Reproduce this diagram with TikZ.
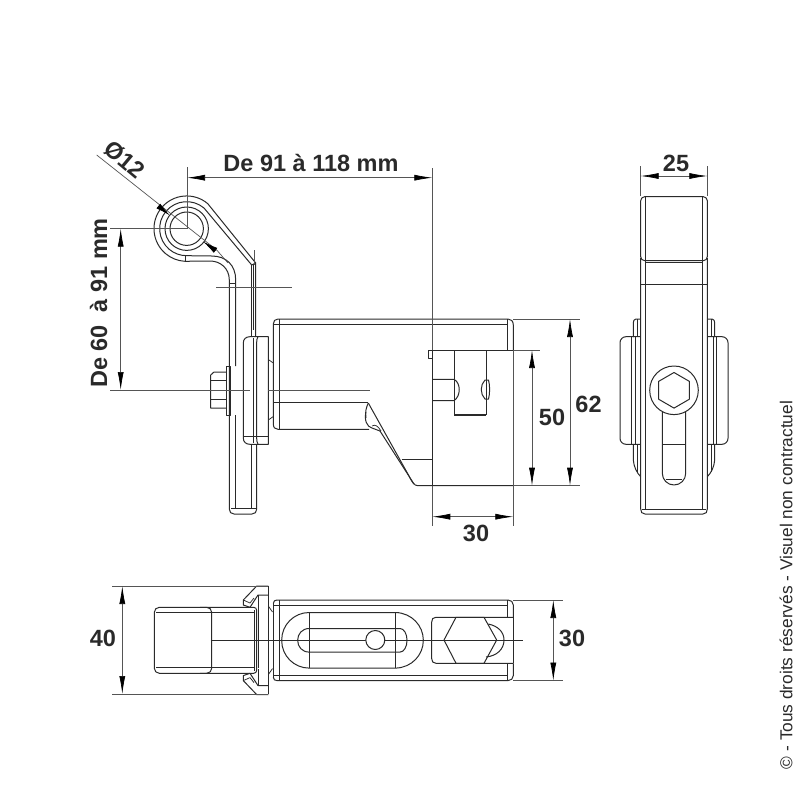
\documentclass[tikz,border=0pt]{standalone}
\usepackage{fontspec}
\setmainfont{Liberation Sans}
\usetikzlibrary{arrows.meta}
\definecolor{ink}{HTML}{2A2A2A}
\definecolor{dimc}{HTML}{555555}
\tikzset{
  part/.style={draw=ink,line width=1pt,line join=round},
  fine/.style={draw=ink,line width=0.75pt,line join=round},
  heavy/.style={draw=ink,line width=1.6pt},
  ext/.style={draw=dimc,line width=0.7pt},
  dimline/.style={draw=dimc,line width=0.7pt,{Latex[length=18pt,width=6pt,color=black]}-{Latex[length=18pt,width=6pt,color=black]}},
  lab/.style={font=\bfseries\fontsize{23.5}{25}\selectfont,text=ink,inner sep=0pt},
  note/.style={font=\fontsize{17.3}{19}\selectfont,text=ink,inner sep=0pt}
}
\begin{document}
\begin{tikzpicture}[x=1pt,y=1pt,yscale=-1]
\useasboundingbox (0,0) rectangle (800,800);
% ---------- eye / side view bracket
\draw[part] (255.7,263) -- (207.7,203.6) arc[start angle=310,end angle=93,radius=32.7]
  -- (210,261) .. controls (220,261) and (229.3,268) .. (229.3,280) -- (229.3,509) .. controls (229.3,512) and (231,514) .. (234,514)
  -- (252,514) .. controls (255,514) and (256.7,512) .. (256.7,509) -- (256.7,444);
\draw[part] (251.7,265) -- (204,208) arc[start angle=310,end angle=90,radius=27]
  -- (211.7,256) .. controls (226,256) and (235.7,265) .. (235.7,280) -- (235.7,366);
\draw[part] (186.7,228.7) circle[radius=21.7];
\draw[part] (186.7,228.7) circle[radius=16.7];
\draw[fine] (185,256) -- (185,261);
\draw[fine] (229.3,283.5) -- (235.7,283.5);
\draw[part] (251.7,265) -- (255.7,263) -- (255.7,336.7);
\draw[part] (251.7,265) -- (251.7,336.7);
\draw[fine] (253.7,264) -- (253.7,330);
\draw[part] (235.7,415) -- (235.7,508) (251.7,444.3) -- (251.7,508);
\draw[fine] (231,508) -- (255.5,508);
% flange
\draw[part] (268.3,336.7) -- (250,336.7) .. controls (246,336.7) and (243.3,339) .. (243.3,343) -- (243.3,438) .. controls (243.3,442) and (246,444.3) .. (250,444.3) -- (268.3,444.3) -- cycle;
\draw[part] (258,336.7) .. controls (256.8,338) and (256.7,340) .. (256.7,345) -- (256.7,436) .. controls (256.7,440) and (256.8,443) .. (258,444.3);
\draw[fine] (253,338) -- (253,443);
\draw[fine] (243.3,436) -- (268.3,436);
\draw[fine] (268.3,359.5) -- (273.3,363) (268.3,420) -- (273.3,416.5);
% bolt
\draw[part] (226,372) -- (214,372) -- (210.7,375) -- (210.7,408) -- (226,408);
\draw[part] (226,366) -- (226,415) -- (230,415) -- (230,366) -- cycle;
\draw[fine] (210.7,380) -- (226,380) (210.7,399) -- (226,399);
% main body
\draw[part] (273.3,324) -- (273.3,424) .. controls (273.3,427.5) and (275,429.3) .. (278,429.3) -- (369,429.3);
\draw[part] (273.3,324) .. controls (273.3,321) and (275,319) .. (278,319) -- (508,319) .. controls (511,319) and (513.3,321) .. (513.3,325) -- (513.3,350);
\draw[part] (274,324.3) -- (507.3,324.3);
\draw[part] (279,319) -- (279,429.3);
\draw[part] (507.3,319) -- (507.3,350);
\draw[part] (273.3,402.3) -- (368.3,402.3);
\draw[part] (368.3,403) -- (409,476) .. controls (412,482) and (414,485.7) .. (418,485.7) -- (513.3,485.7);
\draw[part] (366,412) .. controls (364,420) and (367,427) .. (372,428) -- (380,431) -- (414,484);
\draw[part] (368.3,403) .. controls (366,408) and (365,412) .. (366,418);
\draw[fine] (372,426) .. controls (375,424) and (378,426) .. (381,431);
\draw[part] (401.7,459) -- (432.3,459);
\draw[part] (432.3,350) -- (432.3,485.7);
% head at right
\draw[part] (432.3,358) -- (428.3,358) -- (428.3,350) -- (513.3,350);
\draw[part] (454,350) -- (454,415) (486,350) -- (486,415);
\draw[heavy] (454,415) -- (486,415);
\draw[part] (432.3,379.3) -- (454,379.3) .. controls (461,383) and (461,396) .. (454,400.7) -- (432.3,400.7);
\draw[part] (485,380) .. controls (480,385) and (480,394) .. (485,399) -- (488.5,399) .. controls (490,394) and (490,385) .. (488.5,380) -- cycle;
% ---------- right view
\draw[part,rounded corners=4pt] (640.7,260.7) -- (640.7,196.7) -- (707.3,196.7) -- (707.3,260.7) -- cycle;
\draw[part] (645,196.7) -- (645,509.3) (702.3,196.7) -- (702.3,509.3);
\draw[part] (645,262.7) -- (702.3,262.7);
\draw[part] (640.7,284) -- (707.3,284);
\draw[part] (640.7,258) -- (640.7,509) .. controls (640.7,512) and (642,514) .. (645,514) -- (703,514) .. controls (706,514) and (707.3,512) .. (707.3,509) -- (707.3,258);
\draw[fine] (642,509.3) -- (706,509.3);
\draw[part] (674,390.3) circle[radius=24.3];
\draw[part] (674,372.5) -- (689.4,381.4) -- (689.4,399.2) -- (674,408.1) -- (658.6,399.2) -- (658.6,381.4) -- cycle;
\draw[part] (662.3,412) -- (662.3,473.3) arc[start angle=180,end angle=0,radius=11.7] -- (685.7,412);
\draw[fine] (662.3,444.3) -- (685.7,444.3);
\draw[fine] (666,479) -- (682,479);
\foreach \sx/\lx in {1/0,-1/1348}{
 \begin{scope}[xshift=\lx pt,xscale=\sx]
  \draw[part,rounded corners=6pt] (640.7,336.7) -- (620,336.7) -- (620,444.3) -- (640.7,444.3);
  \draw[part] (640.7,336.7) -- (640.7,444.3);
  \draw[part] (631.7,337) -- (631.7,444);
  \draw[fine] (635,337) -- (635,444);
  \draw[part] (640.7,319) -- (636,319) .. controls (634,319) and (633.3,321) .. (633.3,323) -- (633.3,337);
  \draw[part] (633.3,444.3) -- (633.3,460) .. controls (633.8,467) and (637,473) .. (640.7,476.7);
  \draw[fine] (637,319) -- (637,337);
  \draw[fine] (637,444) -- (637,472);
 \end{scope}}
% ---------- bottom view
\draw[part,rounded corners=5pt] (205,607.3) -- (154.3,607.3) -- (154.3,673.3) -- (205,673.3);
\draw[part,rounded corners=5pt] (200,607.3) -- (211.7,607.3) -- (211.7,673.3) -- (200,673.3);
\draw[part,rounded corners=3pt] (205,607.3) -- (256.7,607.3) -- (256.7,673.3) -- (205,673.3);
\draw[fine] (156,612.7) -- (254.5,612.7) (156,667.7) -- (254.5,667.7);
\draw[part] (254.3,610) -- (254.3,671) (258,612) -- (258,668);
\draw[part] (268.3,586) -- (268.3,694);
\foreach \sy/\ly in {1/0,-1/1280.6}{
 \begin{scope}[yshift=\ly pt,yscale=\sy]
  \draw[part] (268.3,586) -- (256.7,586) -- (243.3,600) -- (243.3,605) -- (250,607.3);
  \draw[part] (250,607.3) -- (258,595) -- (268.3,595);
  \draw[fine] (243.3,600) -- (250,603) -- (254,598);
  \draw[part] (258,612) -- (258,595);
  \draw[fine] (268.3,606) -- (272.5,612);
  \draw[part] (273.3,603.5) .. controls (273.3,601) and (275,600) .. (277,600) -- (508,600) .. controls (511,600) and (513.3,602) .. (513.3,605) -- (513.3,617.3);
  \draw[part] (274,605) -- (507.3,605) (507.3,600) -- (507.3,617);
  \draw[part] (281.7,640) arc[start angle=180,end angle=270,radius=27.5] -- (395.7,612.5) .. controls (412,613) and (423.3,626) .. (423.3,640);
  \draw[part] (297.7,640) .. controls (297.7,634) and (302,628.5) .. (309.3,628.5) -- (400,628.5) .. controls (404,628.5) and (407,634) .. (407,640);
  \draw[part] (431.7,640) -- (431.7,622) .. controls (431.7,619) and (433,617.3) .. (436,617.3) -- (513.3,617.3);
 \end{scope}}
\draw[part] (273.3,603) -- (273.3,678);
\draw[part] (279,600) -- (279,680.6);
\draw[part] (309.3,612.8) -- (309.3,667.8);
\draw[part] (395.7,612.8) -- (395.7,667.8);
\draw[part] (444,640) -- (456,617.3) -- (484,617.3) -- (496.7,640) -- (484,663.3) -- (456,663.3) -- cycle;
\draw[part] (488.3,624) .. controls (498,626) and (504,632) .. (504,640) .. controls (504,649) and (497,656) .. (486,657);
\draw[part] (513.3,617.3) -- (513.3,663.3);
\draw[fine] (210.7,640) -- (523.3,640);
\draw[part,fill=white] (375.3,640) circle[radius=9.5];
% ---------- centre and extension lines
\draw[ext] (187,167) -- (187,228.7) -- (110,228.7);
\draw[ext] (96.7,155) -- (216.7,250) -- (228,263);
\draw[ext] (216,287.3) -- (291.7,287.3);
\draw[ext] (254,250) -- (254,265);
\draw[ext] (110,390) -- (250,390) (268,390) -- (370,390);
\draw[ext] (432.3,168) -- (432.3,350);
\draw[ext] (432.3,485.7) -- (432.3,526);
\draw[ext] (513.3,350) -- (513.3,526);
\draw[ext] (513.3,319) -- (580,319);
\draw[ext] (513.3,350) -- (540,350);
\draw[ext] (513.3,485.7) -- (580,485.7);
\draw[ext] (640.7,196) -- (640.7,166) (707.3,196) -- (707.3,166);
\draw[ext] (112,586) -- (268.3,586) (112,694) -- (268.3,694);
\draw[ext] (513.3,600) -- (562.7,600) (513.3,680.6) -- (562.7,680.6);
% ---------- dimensions
\coordinate (a1) at (187,177.7); \coordinate (a2) at (432.3,177.7);
\draw[dimline] (a1) -- (a2);
\coordinate (b1) at (120.7,228.7); \coordinate (b2) at (120.7,390);
\draw[dimline] (b1) -- (b2);
\coordinate (c1) at (570,319); \coordinate (c2) at (570,485.7);
\draw[dimline] (c1) -- (c2);
\coordinate (d1) at (532,350); \coordinate (d2) at (532,485.7);
\draw[dimline] (d1) -- (d2);
\coordinate (e1) at (432.3,516.7); \coordinate (e2) at (513.3,516.7);
\draw[dimline] (e1) -- (e2);
\coordinate (f1) at (640.7,176); \coordinate (f2) at (707.3,176);
\draw[dimline] (f1) -- (f2);
\coordinate (g1) at (122.3,586); \coordinate (g2) at (122.3,694);
\draw[dimline] (g1) -- (g2);
\coordinate (h1) at (553.3,600); \coordinate (h2) at (553.3,680.6);
\draw[dimline] (h1) -- (h2);
% diameter arrows
\coordinate (p1) at (158.3,206); \coordinate (p2) at (170,215.5);
\coordinate (q1) at (216,250.7); \coordinate (q2) at (203.3,241.7);
\draw[ext,-{Latex[length=15pt,width=6pt,color=black]}] (p1) -- (p2);
\draw[ext,-{Latex[length=15pt,width=6pt,color=black]}] (q1) -- (q2);
% ---------- labels
\node[lab] (l1) at (311,163) {De 91 à 118 mm};
\node[lab,rotate=90] (l2) at (98.5,303) {De 60 \ à 91 mm};
\node[lab,rotate=-40] (l3) at (125,159.5) {Ø12};
\node[lab] (l4) at (588.5,404) {62};
\node[lab] (l5) at (552,417) {50};
\node[lab] (l6) at (476,533) {30};
\node[lab] (l7) at (676,163) {25};
\node[lab] (l8) at (103,638) {40};
\node[lab] (l9) at (572,638) {30};
\node[note,rotate=90] (l10) at (786,585) {© - Tous droits réservés - Visuel non contractuel};
\end{tikzpicture}
\end{document}
